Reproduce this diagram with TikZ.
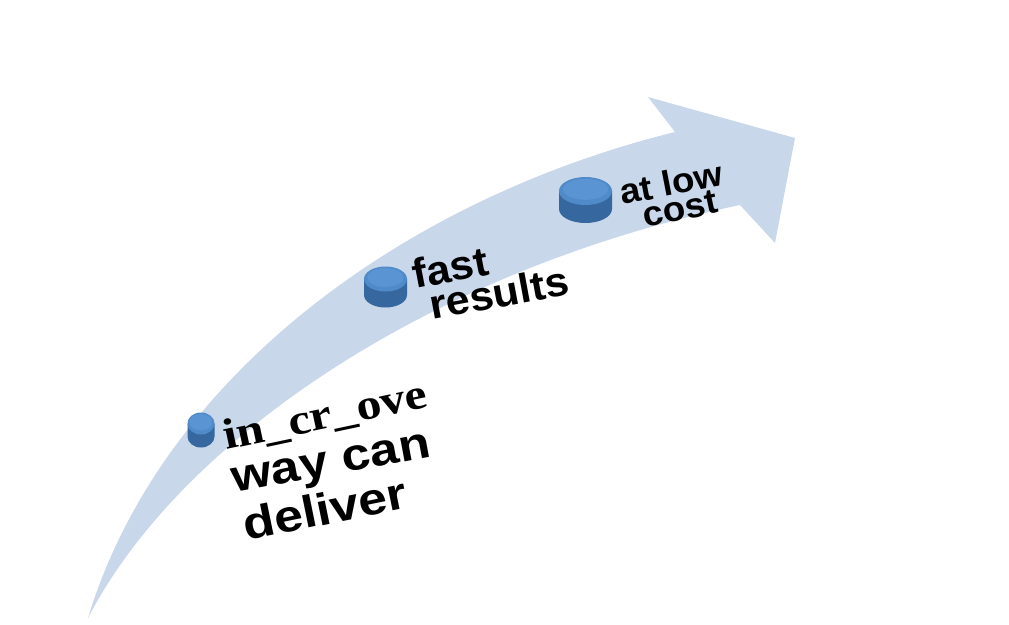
\documentclass[tikz,border=0pt]{standalone}
\usepackage{fontspec}
\setmainfont{Liberation Sans}
\newfontfamily\lsansb[FakeStretch=1.05]{Liberation Sans Bold}
\newfontfamily\lsansbw[FakeStretch=1.15]{Liberation Sans Bold}
\newfontfamily\lserifb[FakeStretch=1.16]{Liberation Serif Bold}
\definecolor{band}{HTML}{C9D7EA}
\definecolor{disctop}{HTML}{4F8AC9}
\definecolor{disclight}{HTML}{5A94D2}
\definecolor{discside}{HTML}{36679F}
\newcommand\mydisc[5]{%
  \fill[discside] ({#1-#3},{#2}) -- ({#1-#3},{#2+#5}) arc[start angle=180,end angle=0,x radius=#3,y radius=#4] -- ({#1+#3},{#2}) -- cycle;
  \fill[disctop] (#1,#2) ellipse[x radius=#3,y radius=#4];
  \fill[disclight] ({#1},{#2-0.12*#4}) ellipse[x radius={0.85*#3},y radius={0.75*#4}];
}
\tikzset{
  lbl/.style={anchor=base west, inner sep=0pt, text=black},
}
\begin{document}
\begin{tikzpicture}[x=1pt,y=-1pt]
\useasboundingbox (0,0) rectangle (1009,624);
% curved arrow band
\fill[band] (88,618) .. controls (160,380) and (400,200) .. (675,132)
  -- (648,97) -- (795,138) -- (775,243) -- (740,205)
  .. controls (430,270) and (180,440) .. (88,618) -- cycle;
% discs
\mydisc{201}{423.5}{13.5}{11}{13}
\mydisc{385.5}{279}{21.5}{12.5}{16}
\mydisc{585.5}{191}{26.5}{14}{18}
% labels
\node[lbl, rotate=12] (l1a) at (226,450) {\fontsize{43}{43}\lserifb in\_cr\_ove};
\node[lbl, rotate=10.5] (l1b) at (234,493) {\fontsize{45}{45}\lsansbw way can};
\node[lbl, rotate=11.5] (l1c) at (246,541) {\fontsize{45}{45}\lsansbw deliver};
\node[lbl, rotate=11] (l2a) at (415,289) {\fontsize{41}{41}\lsansb fast};
\node[lbl, rotate=10.5] (l2b) at (432,320) {\fontsize{41}{41}\lsansb results};
\node[lbl, rotate=11] (l3a) at (622,205) {\fontsize{35}{35}\lsansb at low};
\node[lbl, rotate=12] (l3b) at (645,228) {\fontsize{35}{35}\lsansb cost};
\end{tikzpicture}
\end{document}
